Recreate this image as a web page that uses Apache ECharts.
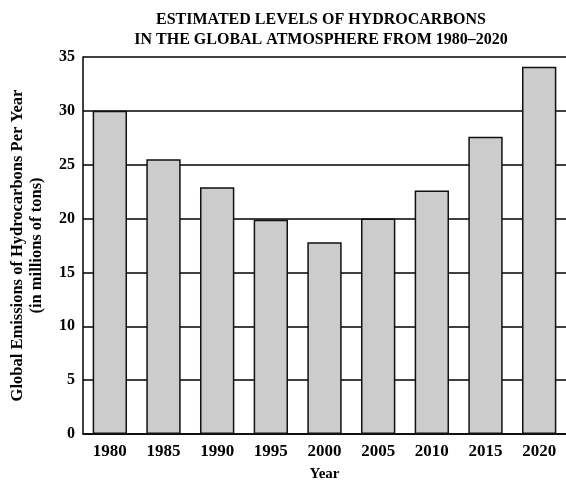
<!DOCTYPE html>
<html>
<head>
<meta charset="utf-8">
<script src="https://cdn.jsdelivr.net/npm/echarts@6/dist/echarts.min.js"></script>
<style>
html,body{margin:0;padding:0;background:#fff;}
#chart{width:566px;height:487px;}
</style>
</head>
<body>
<div id="chart"></div>
<script>
const years = ['1980','1985','1990','1995','2000','2005','2010','2015','2020'];
const emissions = [30.0, 25.5, 22.9, 19.9, 17.8, 20.0, 22.6, 27.6, 34.1];
const yTicks = [0, 5, 10, 15, 20, 25, 30, 35];
const titleText = 'ESTIMATED LEVELS OF HYDROCARBONS\nIN THE GLOBAL ATMOSPHERE FROM 1980\u20132020';
const yName = 'Global Emissions of Hydrocarbons Per Year\n(in millions of tons)';
const xName = 'Year';

const FONT = '"Liberation Serif", "DejaVu Serif", serif';
const chart = echarts.init(document.getElementById('chart'), null, {renderer: 'canvas'});
chart.setOption({
  animation: false,
  backgroundColor: '#ffffff',
  title: {
    text: titleText,
    left: 316,
    textAlign: 'center',
    top: 5,
    textStyle: {fontFamily: FONT, fontWeight: 'bold', fontSize: 16, lineHeight: 20, color: '#000'}
  },
  grid: {left: 81, right: 0, top: 57, bottom: 49.5, containLabel: false},
  xAxis: {
    type: 'category',
    data: years,
    boundaryGap: true,
    name: xName,
    nameLocation: 'middle',
    nameGap: 33,
    nameTextStyle: {fontFamily: FONT, fontWeight: 'bold', fontSize: 15, color: '#000'},
    axisLine: {lineStyle: {color: '#000', width: 1.5}},
    axisTick: {show: false},
    axisLabel: {fontFamily: FONT, fontWeight: 'bold', fontSize: 17, color: '#000', margin: 9}
  },
  yAxis: {
    type: 'value',
    min: yTicks[0],
    max: yTicks[yTicks.length - 1],
    interval: 5,
    name: yName,
    nameLocation: 'middle',
    nameGap: 37,
    nameTextStyle: {fontFamily: FONT, fontWeight: 'bold', fontSize: 16.5, lineHeight: 19, color: '#000'},
    axisLine: {show: true, lineStyle: {color: '#000', width: 1.5}},
    axisTick: {show: false},
    splitLine: {show: true, lineStyle: {color: '#000', width: 1.5}},
    axisLabel: {fontFamily: FONT, fontWeight: 'bold', fontSize: 16, color: '#000', margin: 8}
  },
  series: [{
    type: 'bar',
    data: emissions,
    barCategoryGap: '36%',
    itemStyle: {color: '#cccccc', borderColor: '#111', borderWidth: 1.5}
  }]
});
</script>
</body>
</html>
